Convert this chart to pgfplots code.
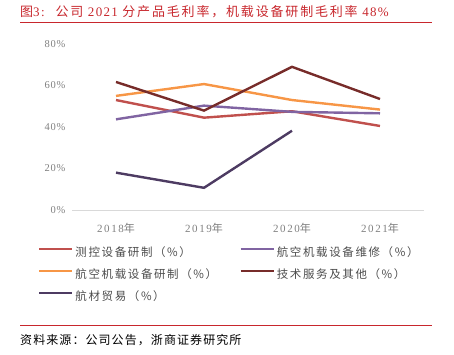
\documentclass[border=0pt]{standalone}
\usepackage{pgfplots}
\pgfplotsset{compat=1.18}
\usepackage{fontspec}
\setmainfont{Liberation Serif}
\newfontfamily\cjk{Noto Sans CJK SC}
\newfontfamily\cjkT[LetterSpace=14]{Noto Sans CJK SC}
\newfontfamily\latT[LetterSpace=10]{Liberation Serif}
\newfontfamily\cjkL[LetterSpace=14]{Noto Sans CJK SC}
\newfontfamily\cjkS[LetterSpace=9]{Noto Sans CJK SC}
\newfontfamily\tickf[LetterSpace=15]{Liberation Serif}
\newfontfamily\tickcjk[LetterSpace=15]{Noto Sans CJK SC}
\newfontfamily\ytickf[LetterSpace=8]{Liberation Serif}
\definecolor{c1}{HTML}{C0504D}
\definecolor{c2}{HTML}{8064A2}
\definecolor{c3}{HTML}{F79646}
\definecolor{c4}{HTML}{772C2A}
\definecolor{c5}{HTML}{4D3B62}
\definecolor{titlered}{HTML}{C8272D}
\definecolor{ticklab}{HTML}{7F7F7F}
\begin{document}
\begin{tikzpicture}[x=1pt,y=1pt]
\path[use as bounding box] (0,0) rectangle (454,354);
\node[anchor=west, text=titlered, font=\fontsize{13}{15}\selectfont\latT, inner sep=0pt] at (20,342) {{\cjkT 图}3:\hspace{11pt}{\cjkT 公司} 2021 {\cjkT 分产品毛利率，机载设备研制毛利率} 48\%};
\draw[titlered, line width=1.1pt] (20,331.5) -- (432,331.5);
\begin{axis}[at={(72pt,144pt)}, anchor=south west, scale only axis,
  width=352pt, height=166pt,
  xmin=-0.5, xmax=3.5, ymin=0, ymax=80,
  ytick={0,20,40,60,80},
  yticklabel={\ytickf\pgfmathprintnumber{\tick}\%},
  /pgf/number format/assume math mode=true,
  xtick={0,1,2,3},
  xticklabels={2018{\tickcjk 年},2019{\tickcjk 年},2020{\tickcjk 年},2021{\tickcjk 年}},
  axis lines=left,
  y axis line style={draw=none},
  x axis line style={draw=black!15, line width=0.8pt, -},
  major tick length=0pt,
  tick label style={text=ticklab, font=\fontsize{10.5}{12}\selectfont},
  xticklabel style={yshift=-10pt, font=\fontsize{11}{12}\selectfont\tickf},
  yticklabel style={xshift=-3pt},
  clip=false,
  legend columns=2,
  legend cell align=left,
  legend style={at={(-0.097,-0.213)}, anchor=north west, draw=none, fill=none,
    inner sep=0pt,
    font=\cjkL\fontsize{11.5}{13}\selectfont, text=black!70,
    column sep=0pt, row sep=7pt,
    nodes={inner sep=2pt, text width=162pt, text height=9pt, text depth=2pt}},
  legend image code/.code={\draw[#1] (0pt,4pt) -- (33pt,4pt);},
  every axis plot/.append style={line width=2.4pt},
]
\addplot[c1] coordinates {(0,53) (1,44.5) (2,47.6) (3,40.5)};
\addlegendentry{测控设备研制（\%）}
\addplot[c2] coordinates {(0,43.7) (1,50.3) (2,47.3) (3,46.6)};
\addlegendentry{航空机载设备维修（\%）}
\addplot[c3] coordinates {(0,55) (1,60.7) (2,53) (3,48.4)};
\addlegendentry{航空机载设备研制（\%）}
\addplot[c4] coordinates {(0,61.7) (1,47.9) (2,69) (3,53.5)};
\addlegendentry{技术服务及其他（\%）}
\addplot[c5] coordinates {(0,18) (1,10.7) (2,38.2)};
\addlegendentry{航材贸易（\%）}
\end{axis}
\draw[titlered, line width=0.8pt] (20,29) -- (432,29);
\node[anchor=west, inner sep=0pt, font=\cjkS\fontsize{12}{14}\selectfont] at (20,14) {资料来源：公司公告，浙商证券研究所};
\end{tikzpicture}
\end{document}
